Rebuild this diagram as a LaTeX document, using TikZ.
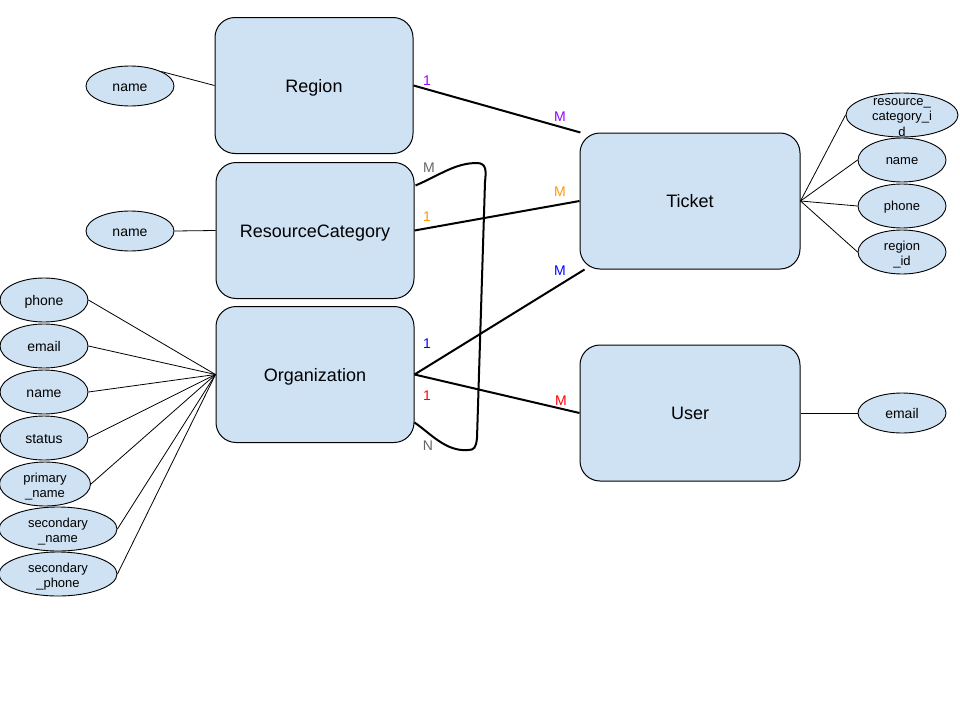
\documentclass[tikz,border=0pt]{standalone}
\usepackage{fontspec}
\setmainfont{Liberation Sans}
\usetikzlibrary{shapes.geometric,calc}
\definecolor{boxfill}{HTML}{CFE2F3}
\definecolor{cpurple}{HTML}{9900FF}
\definecolor{corange}{HTML}{FF9900}
\definecolor{cblue}{HTML}{0000FF}
\definecolor{cred}{HTML}{FF0000}
\definecolor{cgray}{HTML}{666666}
\tikzset{
  entity/.style={draw=black, line width=1pt, fill=boxfill, rounded corners=20pt,
    minimum width=198pt, minimum height=136pt, inner sep=0pt,
    text height=13pt, text depth=0pt,
    font=\fontsize{18}{21}\selectfont},
  attr/.style={draw=black, line width=0.9pt, fill=boxfill, ellipse,
    minimum width=88pt, minimum height=44pt, inner sep=0pt, align=center,
    font=\fontsize{14}{15.5}\selectfont},
  oneline/.style={text height=10pt, text depth=0pt},
  soneline/.style={text height=9.4pt, text depth=0pt},
  sattr/.style={attr, font=\fontsize{13}{15.5}\selectfont},
  multi/.style={text height=27pt, text depth=0pt},
  multithree/.style={text height=42.4pt, text depth=0pt, inner ysep=-10pt},
  rel/.style={draw=black, line width=2pt},
  alink/.style={draw=black, line width=0.8pt},
  card/.style={inner sep=0pt, font=\fontsize{14}{16}\selectfont},
}
\begin{document}
\begin{tikzpicture}[x=1pt,y=-1pt]
\path[use as bounding box, fill=white] (0,0) rectangle (960,720);

% entities
\node[entity] (region) at (314,85.5) {Region};
\node[entity] (rc) at (315,230.5) {ResourceCategory};
\node[entity] (org) at (315,374.5) {Organization};
\node[entity, minimum width=220pt] (ticket) at (690,201) {Ticket};
\node[entity, minimum width=220pt] (user) at (690,413) {User};

% attributes
\node[attr, oneline, minimum height=40pt] (rn) at (130,86) {name};
\node[attr, oneline, minimum height=40pt] (rcn) at (130,231) {name};

\node[attr, oneline] (op) at (44,300) {phone};
\node[attr, oneline] (oe) at (44,346) {email};
\node[attr, oneline] (on) at (44,392) {name};
\node[attr, oneline] (os) at (44,438) {status};
\node[sattr, multi, minimum width=91pt] (opn) at (45,484) {primary\\\_name};
\node[sattr, multi, minimum width=118pt] (osn) at (58,529) {secondary\\\_name};
\node[sattr, multi, minimum width=118pt] (osp) at (58,574) {secondary\\\_phone};

\node[sattr, multithree, minimum width=112pt] (trc) at (902,115) {resource\_\\category\_i\\d};
\node[sattr, soneline] (tn) at (902,160) {name};
\node[sattr, soneline] (tp) at (902,206) {phone};
\node[sattr, multi] (tr) at (902,252) {region\\\_id};

\node[attr, oneline, minimum height=40pt] (ue) at (902,413) {email};

% attribute links
\draw[alink] (rn.north east) -- (region.west);
\draw[alink] (rcn.east) -- (rc.west);
\foreach \a in {op,oe,on,os,opn,osn,osp}
  \draw[alink] (\a.east) -- (org.west);
\foreach \a in {trc,tn,tp,tr}
  \draw[alink] (ticket.east) -- (\a.west);
\draw[alink] (user.east) -- (ue.west);

% relationships
\draw[rel] (region.east) -- (ticket.148);
\draw[rel] (rc.east) -- (ticket.west);
\draw[rel] (org.east) -- (ticket.213);
\draw[rel] (org.east) -- (user.west);

\coordinate (ms) at ($(rc.east)+(1,-45)$);
\coordinate (me) at ($(org.east)+(0,48)$);
\draw[rel] (ms) .. controls (440,175) and (455,163) .. (477,163)
  .. controls (487,163) and (486,172) .. (485,182)
  -- (477,438) .. controls (476,448) and (474,450) .. (468,450)
  .. controls (446,452) and (430,433) .. (me);

% cardinalities
\node[card, text=cpurple] (l1) at (427,81) {1};
\node[card, text=cpurple] (l2) at (560,117) {M};
\node[card, text=cgray] (l3) at (429,168) {M};
\node[card, text=corange] (l4) at (560,192) {M};
\node[card, text=corange] (l5) at (427,217) {1};
\node[card, text=cblue] (l6) at (560,271) {M};
\node[card, text=cblue] (l7) at (427,344) {1};
\node[card, text=cred] (l8) at (427,396) {1};
\node[card, text=cred] (l9) at (561,401) {M};
\node[card, text=cgray] (l10) at (428,446) {N};
\end{tikzpicture}
\end{document}
